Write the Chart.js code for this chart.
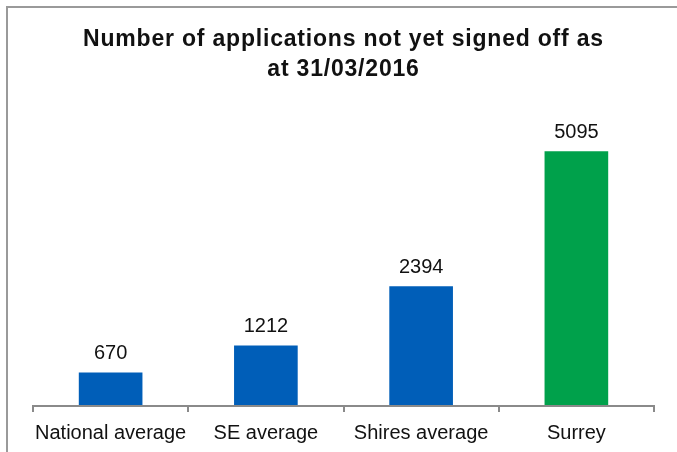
<!DOCTYPE html>
<html>
<head>
<meta charset="utf-8">
<script src="https://cdn.jsdelivr.net/npm/chart.js@4/dist/chart.umd.min.js"></script>
<style>
html,body{margin:0;padding:0;background:#fff;}
#wrap{width:677px;height:452px;position:relative;}
</style>
</head>
<body>
<div id="wrap"><canvas id="c" width="677" height="452"></canvas></div>
<script>
const categories = ["National average", "SE average", "Shires average", "Surrey"];
const values = [670, 1212, 2394, 5095];
const barColors = ["#005EB8", "#005EB8", "#005EB8", "#00A14B"];
const titleLines = ["Number of applications not yet signed off as", "at 31/03/2016"];

const FONT = "'Liberation Sans', Arial, sans-serif";

const frame = {
  id: 'frame',
  beforeDraw(chart) {
    const ctx = chart.ctx;
    ctx.save();
    ctx.fillStyle = '#fff';
    ctx.fillRect(0, 0, chart.width, chart.height);
    ctx.strokeStyle = '#9a9a9a';
    ctx.lineWidth = 2;
    ctx.beginPath();
    ctx.moveTo(7, chart.height + 5);
    ctx.lineTo(7, 7);
    ctx.lineTo(chart.width + 5, 7);
    ctx.stroke();
    ctx.restore();
    // title (z 0) is drawn next with slightly wider letter spacing
    if ('letterSpacing' in ctx) ctx.letterSpacing = '0.8px';
  },
  beforeDatasetsDraw(chart) {
    if ('letterSpacing' in chart.ctx) chart.ctx.letterSpacing = '0px';
  }
};

const valueLabels = {
  id: 'valueLabels',
  afterDatasetsDraw(chart) {
    const ctx = chart.ctx;
    const meta = chart.getDatasetMeta(0);
    ctx.save();
    ctx.font = "20px " + FONT;
    ctx.fillStyle = '#111';
    ctx.textAlign = 'center';
    ctx.textBaseline = 'alphabetic';
    meta.data.forEach((bar, i) => {
      ctx.fillText(String(values[i]), bar.x, bar.y - 13);
    });
    ctx.restore();
  }
};

new Chart(document.getElementById('c'), {
  type: 'bar',
  data: {
    labels: categories,
    datasets: [{
      data: values,
      backgroundColor: barColors,
      borderWidth: 0,
      categoryPercentage: 1,
      barPercentage: 0.41
    }]
  },
  options: {
    responsive: false,
    animation: false,
    layout: { padding: { left: 33, right: 23, top: 0, bottom: 0 } },
    plugins: {
      legend: { display: false },
      tooltip: { enabled: false },
      title: {
        display: true,
        text: titleLines,
        color: '#111',
        font: { family: FONT, size: 23, weight: 'bold', lineHeight: 1.28 },
        padding: { top: 25, bottom: 22 }
      }
    },
    scales: {
      x: {
        offset: true,
        grid: {
          display: true,
          offset: true,
          drawOnChartArea: false,
          drawTicks: true,
          tickLength: 6,
          color: '#8a8a8a',
          lineWidth: 2,
          z: 1
        },
        border: { display: true, color: '#8a8a8a', width: 2, z: 1 },
        ticks: {
          z: 1,
          color: '#111',
          font: { family: FONT, size: 20 },
          padding: 9,
          maxRotation: 0,
          autoSkip: false
        },
        afterFit(scale) { scale.height = 46; }
      },
      y: {
        display: false,
        min: 0,
        max: 6000
      }
    }
  },
  plugins: [frame, valueLabels]
});
</script>
</body>
</html>
